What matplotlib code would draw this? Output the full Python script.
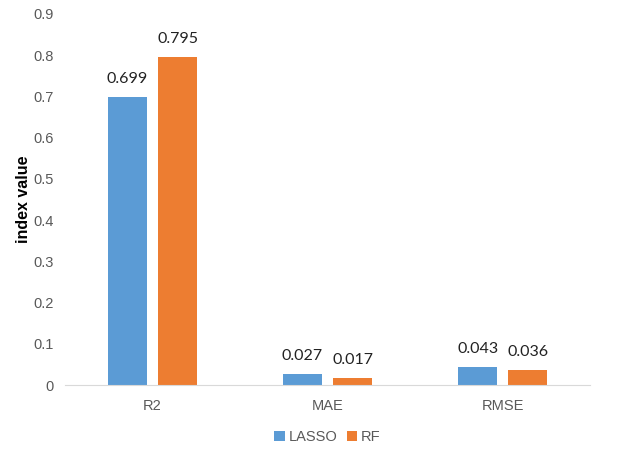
from matplotlib import pyplot as plt
import numpy as np

plt.rcParams['font.family'] = 'Liberation Sans'

metrics = ['R2', 'MAE', 'RMSE']
lasso_vals = [0.699, 0.027, 0.043]
rf_vals = [0.795, 0.017, 0.036]
lasso_labels = ['0.699', '0.027', '0.043']
rf_labels = ['0.795', '0.017', '0.036']

blue = '#5B9BD5'
orange = '#ED7D31'

fig = plt.figure(figsize=(6.3, 4.51), dpi=100)
ax = fig.add_axes([0.103, 0.146, 0.834, 0.823])

x = np.arange(len(metrics))
w = 0.225
b1 = ax.bar(x - 0.143, lasso_vals, w, color=blue, label='LASSO')
b2 = ax.bar(x + 0.143, rf_vals, w, color=orange, label='RF')

for bars, labs in [(b1, lasso_labels), (b2, rf_labels)]:
    for bar, lab in zip(bars, labs):
        ax.annotate(lab, (bar.get_x() + bar.get_width() / 2, bar.get_height()),
                    xytext=(0, 8), textcoords='offset points', ha='center', va='bottom',
                    fontsize=11.5, color='#222222', family='Lato')

ax.set_xlim(-0.5, 2.5)
ax.set_ylim(0, 0.9)
ax.set_yticks(np.arange(0, 0.91, 0.1))
ax.set_yticklabels(['0'] + ['%.1f' % v for v in np.arange(0.1, 0.91, 0.1)])
ax.set_xticks(x)
ax.set_xticklabels(metrics)
ax.tick_params(colors='#595959', labelsize=10.5, length=0)
ax.tick_params(axis='x', pad=10)
ax.tick_params(axis='y', pad=8)

for s in ['top', 'right', 'left']:
    ax.spines[s].set_visible(False)
ax.spines['bottom'].set_color('#D9D9D9')

ax.set_ylabel('index value', fontsize=11.5, fontweight='bold', labelpad=2)

ax.legend(loc='upper center', bbox_to_anchor=(0.5, -0.085), ncol=2, frameon=False,
          fontsize=10.5, handlelength=0.7, handleheight=0.7, handletextpad=0.3,
          columnspacing=0.6, labelcolor='#595959')

plt.savefig('out.png')
